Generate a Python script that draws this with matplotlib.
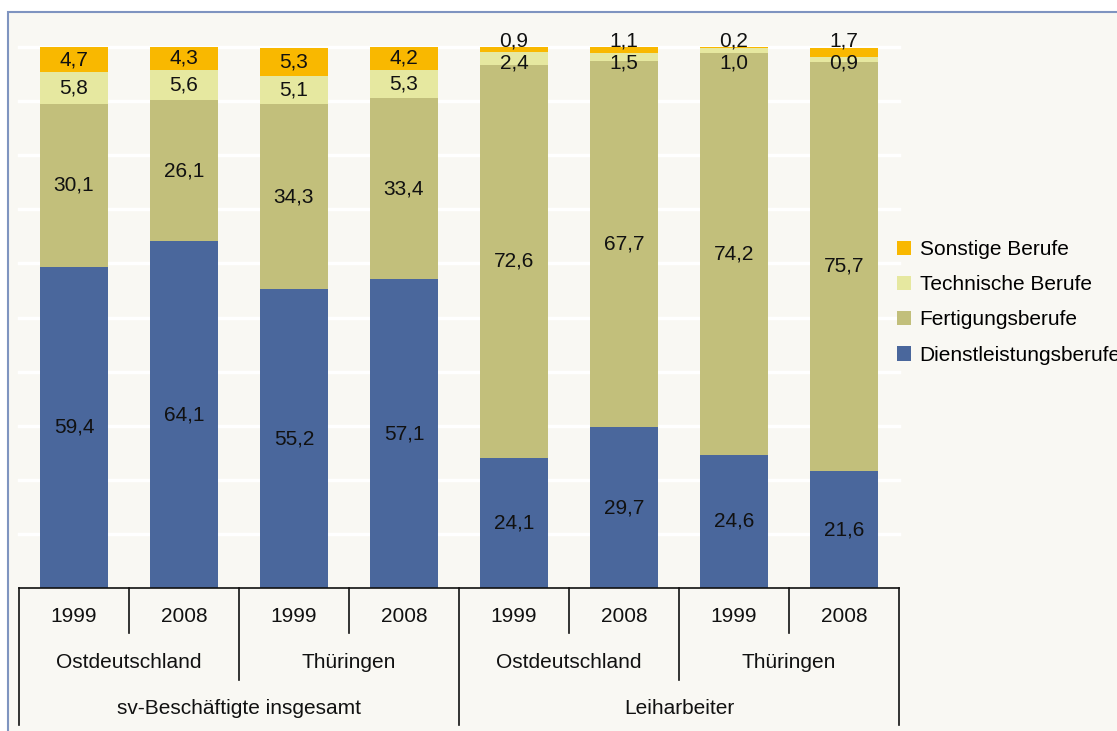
import numpy as np
import matplotlib.pyplot as plt
from matplotlib.patches import Rectangle

plt.rcParams['font.family'] = ['Liberation Sans', 'DejaVu Sans']

# DATA

years = ['1999', '2008', '1999', '2008', '1999', '2008', '1999', '2008']
regions = ['Ostdeutschland', 'Thüringen', 'Ostdeutschland', 'Thüringen']
groups = ['sv-Beschäftigte insgesamt', 'Leiharbeiter']

dienst = [59.4, 64.1, 55.2, 57.1, 24.1, 29.7, 24.6, 21.6]
fertigung = [30.1, 26.1, 34.3, 33.4, 72.6, 67.7, 74.2, 75.7]
technisch = [5.8, 5.6, 5.1, 5.3, 2.4, 1.5, 1.0, 0.9]
sonstige = [4.7, 4.3, 5.3, 4.2, 0.9, 1.1, 0.2, 1.7]

series = [
    ('Dienstleistungsberufe', dienst, '#4A679C'),
    ('Fertigungsberufe', fertigung, '#C2BF7B'),
    ('Technische Berufe', technisch, '#E6E8A0'),
    ('Sonstige Berufe', sonstige, '#F9B800'),
]

BG = '#F9F8F3'
FS = 15

# PLOT

fig = plt.figure(figsize=(11.17, 7.31), dpi=100, facecolor='white')
fig.patches.append(Rectangle((8 / 1117, -0.1), 1.2, 1 - 12 / 731 + 0.1,
                             transform=fig.transFigure, facecolor=BG,
                             edgecolor='#7F94C0', linewidth=1.5, zorder=-5))

ax = fig.add_axes([19 / 1117, (731 - 588) / 731, 880 / 1117, 541 / 731])
ax.set_zorder(5)
ax.patch.set_alpha(0)

x = np.arange(len(years))
bottom = np.zeros(len(years))
bars = {}
for name, vals, color in series:
    vals = np.array(vals)
    bars[name] = ax.bar(x, vals, 0.61, bottom=bottom, color=color, label=name, zorder=2)
    for i, v in enumerate(vals):
        yc = bottom[i] + v / 2
        # small segments of the Leiharbeiter bars: labels moved to the top
        if i >= 4 and name == 'Sonstige Berufe':
            yc = 101.2
        elif i >= 4 and name == 'Technische Berufe':
            yc = 97.0
        ax.text(x[i], yc, f'{v:.1f}'.replace('.', ','), ha='center', va='center',
                fontsize=FS, color='#111111', zorder=3, clip_on=False)
    bottom += vals

ax.set_xlim(-0.5, 7.5)
ax.set_ylim(0, 100)
for g in np.arange(10, 101, 10):
    ax.axhline(g, color='white', linewidth=2.5, zorder=1, clip_on=False)
ax.set_xticks([])
ax.set_yticks([])
for s in ax.spines.values():
    s.set_visible(False)

# category table under the bars
tr = ax.get_xaxis_transform()
lk = dict(color='#111111', linewidth=1.2, clip_on=False, transform=tr)
ax.plot([-0.5, 7.5], [0, 0], **lk)
ax.plot([-0.5, -0.5], [0, -0.253], **lk)
ax.plot([7.5, 7.5], [0, -0.253], **lk)
ax.plot([3.5, 3.5], [0, -0.253], **lk)
for b in [1.5, 5.5]:
    ax.plot([b, b], [0, -0.170], **lk)
for b in [0.5, 2.5, 4.5, 6.5]:
    ax.plot([b, b], [0, -0.0832], **lk)

tk = dict(ha='center', va='center', fontsize=FS, color='#111111', transform=tr)
for i, y in enumerate(years):
    ax.text(i, -0.052, y, **tk)
for i, r in enumerate(regions):
    ax.text(2 * i + 0.5, -0.137, r, **tk)
for i, g in enumerate(groups):
    ax.text(4 * i + 1.5, -0.222, g, **tk)

handles = [bars[n] for n, _, _ in series][::-1]
labels = [n for n, _, _ in series][::-1]
ax.legend(handles, labels, loc='center left', bbox_to_anchor=(0.998, 0.528),
          frameon=False, fontsize=FS, handlelength=0.68, handleheight=0.68,
          handletextpad=0.4, labelspacing=0.78, borderaxespad=0, borderpad=0)

fig.savefig('out.png', dpi=100, facecolor='white')
